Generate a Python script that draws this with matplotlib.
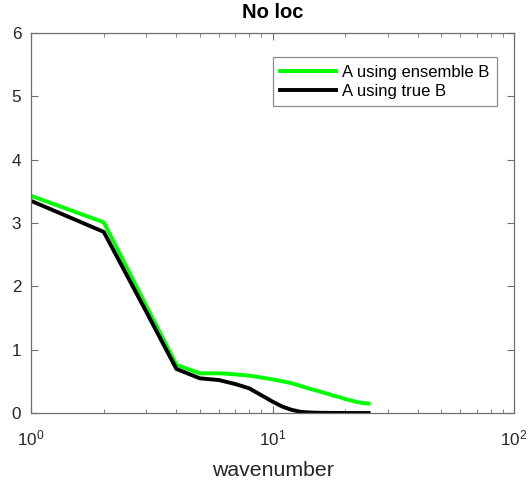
import matplotlib
matplotlib.use("Agg")
import matplotlib.pyplot as plt
from matplotlib.ticker import LogLocator, NullFormatter

plt.rcParams['font.family'] = ['Liberation Sans', 'DejaVu Sans']

wavenumber = [1, 2, 3, 4, 5, 6, 7, 8, 9, 10, 11, 12, 13, 14, 15, 16, 17, 18, 19, 20, 21, 22, 23, 24, 25]
a_ensemble_b = [3.43, 3.01, 1.69, 0.76, 0.627, 0.627, 0.61, 0.59, 0.56, 0.53, 0.50, 0.47, 0.43, 0.39,
                0.36, 0.33, 0.30, 0.27, 0.25, 0.22, 0.20, 0.18, 0.165, 0.155, 0.15]
a_true_b = [3.35, 2.86, 1.60, 0.695, 0.548, 0.52, 0.458, 0.39, 0.28, 0.18, 0.10, 0.05, 0.02, 0.01,
            0.005, 0.003, 0.002, 0.001, 0.001, 0.0, 0.0, 0.0, 0.0, 0.0, 0.0]

fig = plt.figure(figsize=(5.28, 4.82), dpi=100)
ax = fig.add_axes([31/528, 1 - 413/482, (514 - 31)/528, (413 - 33)/482])

ax.plot(wavenumber, a_ensemble_b, color='#00ff00', lw=2.8, label='A using ensemble B')
ax.plot(wavenumber, a_true_b, color='black', lw=2.8, label='A using true B')

ax.set_xscale('log')
ax.set_xlim(1, 100)
ax.set_ylim(0, 6)
ax.set_yticks(range(0, 7))
ax.xaxis.set_major_locator(LogLocator(base=10, numticks=10))
ax.xaxis.set_minor_locator(LogLocator(base=10, subs=range(2, 10), numticks=10))
ax.xaxis.set_minor_formatter(NullFormatter())

axis_col = '#6e6e6e'
for s in ax.spines.values():
    s.set_color(axis_col)
    s.set_linewidth(0.9)
ax.tick_params(which='both', direction='in', top=True, right=True, colors=axis_col,
               labelsize=12.3, labelcolor='#262626')
ax.tick_params(which='major', length=5)
ax.tick_params(which='minor', length=3)
ax.tick_params(axis='x', which='major', pad=11)
ax.tick_params(axis='y', which='major', pad=7)

ax.set_title('No loc', fontsize=14.5, fontweight='bold', pad=11, color='black')
ax.set_xlabel('wavenumber', fontsize=15.3, color='#262626', labelpad=9)

leg = ax.legend(loc='upper right', bbox_to_anchor=(0.9648, 0.9368), borderaxespad=0,
                fontsize=12, frameon=True, fancybox=False, edgecolor=axis_col,
                borderpad=0.45, handlelength=3.35, labelspacing=0.25, handletextpad=0.35)
leg.get_frame().set_linewidth(0.9)

fig.savefig('out.png', dpi=100)
